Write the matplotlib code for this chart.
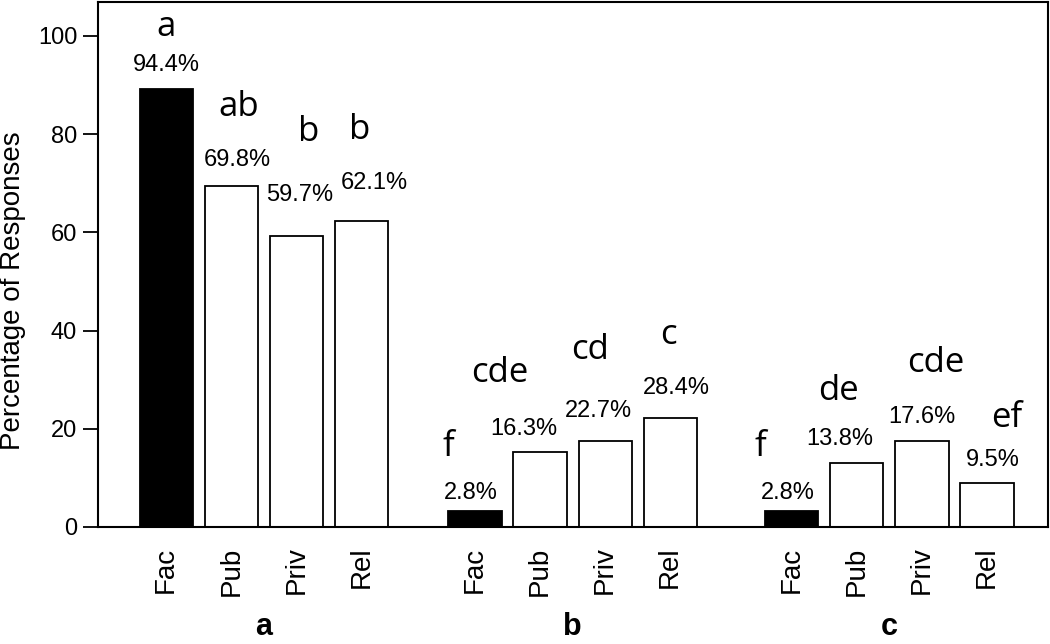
import matplotlib
matplotlib.use('Agg')
import matplotlib.pyplot as plt
import numpy as np

plt.rcParams['font.family'] = ['Liberation Sans', 'DejaVu Sans']

# data
groups = ['a', 'b', 'c']
categories = ['Fac', 'Pub', 'Priv', 'Rel']
heights_a = [89.2, 69.5, 59.3, 62.3]
heights_b = [3.3, 15.2, 17.5, 22.1]
heights_c = [3.3, 13.1, 17.5, 9.0]
pct_a = ['94.4%', '69.8%', '59.7%', '62.1%']
pct_b = ['2.8%', '16.3%', '22.7%', '28.4%']
pct_c = ['2.8%', '13.8%', '17.6%', '9.5%']
let_a = ['a', 'ab', 'b', 'b']
let_b = ['f', 'cde', 'cd', 'c']
let_c = ['f', 'de', 'cde', 'ef']

heights = [heights_a, heights_b, heights_c]
pcts = [pct_a, pct_b, pct_c]
letters = [let_a, let_b, let_c]

# layout: group starts and label offsets (pixels: dx, dy above bar top)
group_start = [0, 4.75, 9.62]
pct_off = [[(0, 24), (6, 26), (3, 41), (13, 38)],
           [(-4, 18), (-16, 23), (-7, 30), (6, 30)],
           [(-4, 18), (-17, 24), (0, 24), (6, 23)]]
let_off = [[(0, 62), (7, 79), (12, 104), (-2, 91)],
           [(-27, 64), (-40, 79), (-15, 91), (-2, 83)],
           [(-31, 64), (-18, 72), (14, 78), (20, 65)]]
px = 0.72  # points per pixel at dpi 100

fig = plt.figure(figsize=(10.5, 6.44), dpi=100)
ax = fig.add_axes([0.0933, 0.1817, 0.9048, 0.8152])

xt = []
xl = []
for g in range(3):
    xs = group_start[g] + np.arange(4)
    colors = ['black', 'white', 'white', 'white']
    ax.bar(xs, heights[g], width=0.82, color=colors, edgecolor='black', linewidth=1.3, zorder=2)
    for i in range(4):
        dx, dy = pct_off[g][i]
        ax.annotate(pcts[g][i], (xs[i], heights[g][i]), xytext=(dx*px, dy*px),
                    textcoords='offset points', ha='center', va='center', fontsize=17)
        dx, dy = let_off[g][i]
        ax.annotate(letters[g][i], (xs[i], heights[g][i]), xytext=(dx*px, dy*px),
                    textcoords='offset points', ha='center', va='center', fontsize=25,
                    family=['Open Sans', 'DejaVu Sans'])
    xt.extend(xs)
    xl.extend(categories)
    ax.text(xs.mean(), -0.19, groups[g], transform=ax.get_xaxis_transform(),
            ha='center', va='center', fontsize=22, fontweight='bold')

ax.set_xlim(-1.05, 13.56)
ax.set_ylim(0, 106.9)
ax.set_xticks(xt)
ax.set_xticklabels(xl, rotation=90, fontsize=20)
ax.tick_params(axis='x', length=0, pad=14)
ax.set_yticks([0, 20, 40, 60, 80, 100])
ax.tick_params(axis='y', length=11, width=1.3, labelsize=17, pad=4)
ax.set_ylabel('Percentage of Responses', fontsize=20, va='center')
ax.yaxis.set_label_coords(-0.0895, 0.451)
for s in ax.spines.values():
    s.set_linewidth(1.5)

fig.savefig('out.png', dpi=100)
